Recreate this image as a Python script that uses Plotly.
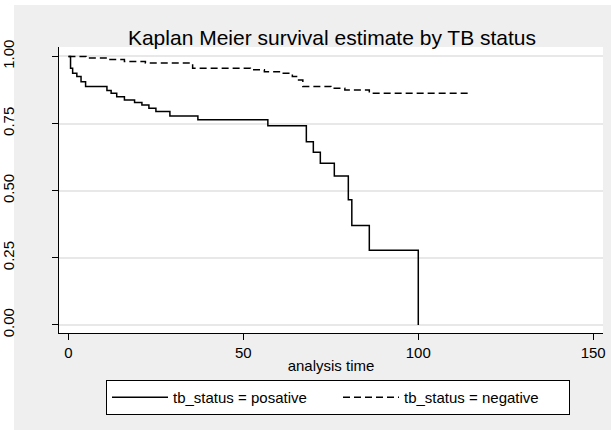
import plotly.graph_objects as go

# Data (Kaplan-Meier step points)
pos_time = [0, 0.6, 1.2, 2.4, 3.6, 4.9, 11, 12.2, 13.8, 16, 18.9, 21, 23, 25, 29, 37, 57, 68, 70, 72, 76, 80, 81, 86, 100]
pos_surv = [1.0, 0.956, 0.937, 0.925, 0.906, 0.888, 0.873, 0.863, 0.850, 0.838, 0.828, 0.819, 0.807, 0.795, 0.778, 0.764, 0.742, 0.682, 0.643, 0.602, 0.555, 0.466, 0.370, 0.278, 0.0]

neg_time = [0, 5, 11, 16, 22, 35.5, 52, 56, 61, 64, 65.5, 67, 75, 79, 86, 115]
neg_surv = [1.0, 0.994, 0.988, 0.981, 0.975, 0.956, 0.950, 0.943, 0.937, 0.925, 0.912, 0.888, 0.881, 0.875, 0.863, 0.863]

x_ticks = [0, 50, 100, 150]
y_ticks = [0.0, 0.25, 0.5, 0.75, 1.0]
y_ticktext = ["0.00", "0.25", "0.50", "0.75", "1.00"]

FONT = "Liberation Sans, Arial, sans-serif"

fig = go.Figure()
fig.add_trace(go.Scatter(x=pos_time, y=pos_surv, mode="lines", line_shape="hv",
                         line=dict(color="black", width=1.5),
                         name="tb_status = posative"))
fig.add_trace(go.Scatter(x=neg_time, y=neg_surv, mode="lines", line_shape="hv",
                         line=dict(color="black", width=1.5, dash="7px,4px"),
                         name="tb_status = negative"))

W, H = 611, 430
L, R, T, B = 59, 8, 47, 97
pw, ph = W - L - R, H - T - B

def px_x(p):
    return (p - L) / pw

def px_y(p):
    return (H - B - p) / ph

fig.update_layout(
    width=W, height=H,
    margin=dict(l=L, r=R, t=T, b=B, autoexpand=False),
    paper_bgcolor="white",
    plot_bgcolor="white",
    font=dict(family=FONT, size=15, color="black"),
    title=dict(text="Kaplan Meier survival estimate by TB status",
               x=px_x(332), xref="paper", xanchor="center",
               y=1 - 38 / H, yref="container", yanchor="middle",
               font=dict(size=21, color="black")),
    showlegend=True,
    legend=dict(orientation="h", x=px_x(106), xanchor="left", y=px_y(380), yanchor="top",
                bgcolor="white", bordercolor="black", borderwidth=1,
                font=dict(size=15), itemwidth=56, entrywidth=160, tracegroupgap=0),
    shapes=[
        dict(type="rect", xref="paper", yref="paper", x0=px_x(14), x1=px_x(W + 2),
             y0=px_y(H + 2), y1=px_y(5), fillcolor="#efefef", line=dict(width=0), layer="below"),
        dict(type="rect", xref="paper", yref="paper", x0=0, x1=1, y0=0, y1=1,
             fillcolor="white", line=dict(width=0), layer="below"),
    ],
)

fig.update_xaxes(range=[-2.7, 152.8], tickvals=x_ticks, ticks="outside", ticklen=6,
                 tickcolor="black", showline=True, linecolor="black", linewidth=1,
                 showgrid=False, zeroline=False, mirror=False, automargin=False,
                 title=dict(text="analysis time", font=dict(size=15), standoff=0),
                 tickfont=dict(size=15))
fig.update_yaxes(range=[-0.03, 1.035], tickvals=y_ticks, ticktext=y_ticktext,
                 ticks="outside", ticklen=6, tickcolor="black", tickangle=-90,
                 showline=True, linecolor="black", linewidth=1, automargin=False,
                 showgrid=True, gridcolor="#e8e8e8", gridwidth=1.5, zeroline=False,
                 tickfont=dict(size=15), ticklabelstandoff=32)

fig.write_html("out.html")
